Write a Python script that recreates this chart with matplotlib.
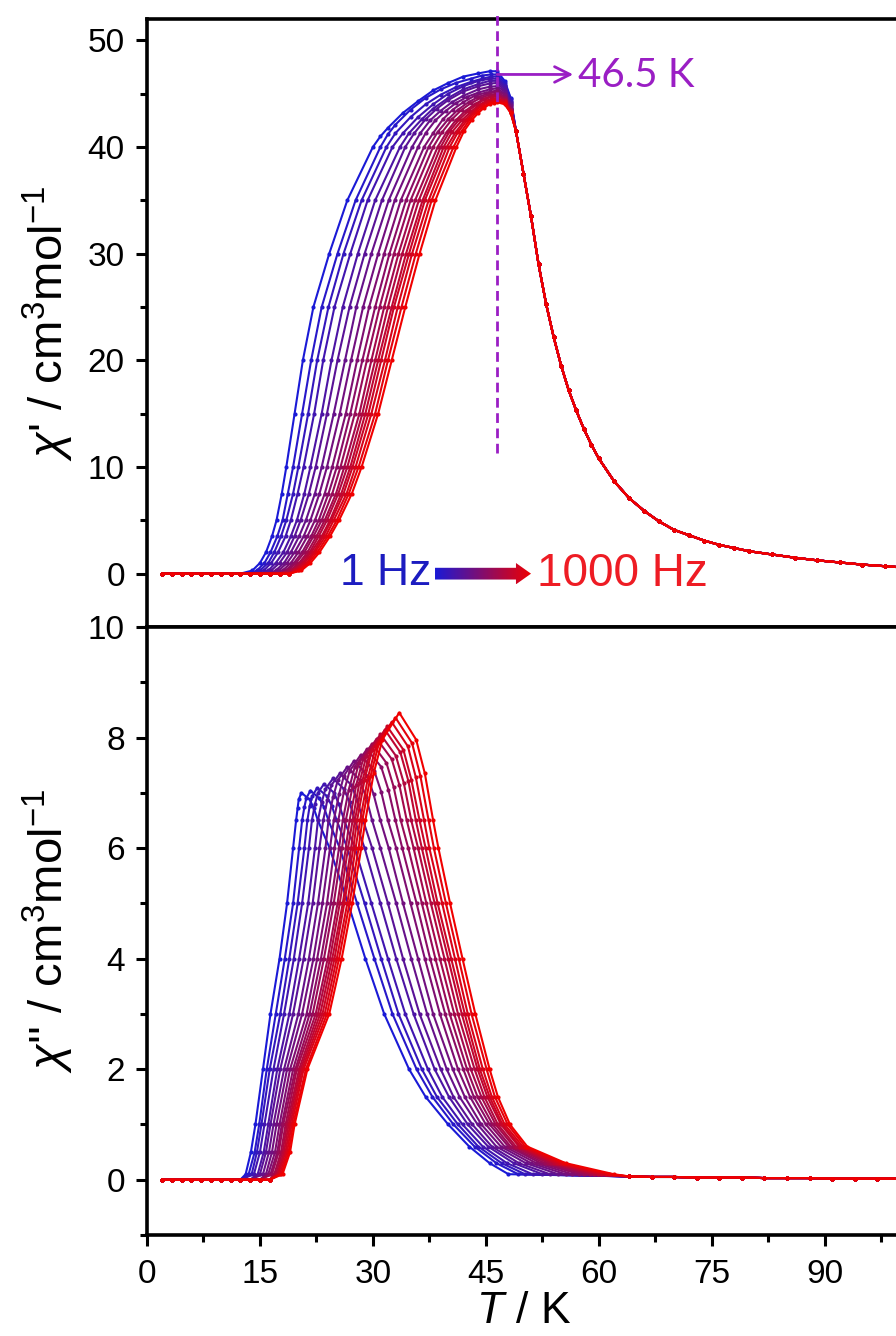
import numpy as np
import matplotlib
matplotlib.use('Agg')
import matplotlib.pyplot as plt
from matplotlib.colors import LinearSegmentedColormap
from matplotlib.patches import Polygon
from matplotlib.ticker import MultipleLocator

plt.rcParams['font.family'] = ['Liberation Sans', 'DejaVu Sans']
plt.rcParams['mathtext.fontset'] = 'custom'
plt.rcParams['mathtext.rm'] = 'Liberation Sans'
plt.rcParams['mathtext.it'] = 'Liberation Sans:italic'

# ---- data (18 frequencies, 1 Hz -> 1000 Hz) ----

# baseline points below the onset (shared)
t_base = [2.0, 3.3, 4.6, 5.9, 7.2, 8.5, 9.8, 11.1, 12.4, 13.7, 15.0, 16.3, 17.6, 18.9]
chi_base = [0.0, 0.0, 0.0, 0.0, 0.0, 0.0, 0.0, 0.0, 0.0, 0.0, 0.0, 0.0, 0.0, 0.0]

# chi' : temperatures where each curve crosses these levels on the rising side
chi1_levels = [0.3, 1, 2, 3.5, 5, 7.5, 10, 15, 20, 25, 30, 35, 40]
t1_rise = [
    [14.0, 15.0, 15.8, 16.6, 17.2, 17.9, 18.5, 19.6, 20.7, 22.1, 24.2, 26.6, 30.0],
    [14.6, 15.6, 16.4, 17.3, 18.0, 18.7, 19.4, 20.6, 21.8, 23.2, 25.3, 27.7, 31.0],
    [15.0, 16.1, 16.9, 17.8, 18.5, 19.4, 20.1, 21.4, 22.6, 24.1, 26.1, 28.5, 31.8],
    [15.5, 16.5, 17.4, 18.4, 19.1, 20.0, 20.8, 22.2, 23.4, 24.9, 27.0, 29.3, 32.6],
    [16.1, 17.1, 18.1, 19.1, 19.9, 20.9, 21.7, 23.2, 24.5, 26.0, 28.0, 30.3, 33.6],
    [16.5, 17.6, 18.6, 19.6, 20.4, 21.5, 22.4, 23.9, 25.3, 26.9, 28.9, 31.2, 34.3],
    [17.1, 18.2, 19.1, 20.2, 21.1, 22.3, 23.2, 24.8, 26.3, 27.8, 29.8, 32.1, 35.2],
    [17.5, 18.6, 19.6, 20.8, 21.7, 22.9, 23.9, 25.6, 27.1, 28.7, 30.7, 32.9, 36.0],
    [18.0, 19.1, 20.1, 21.3, 22.3, 23.6, 24.6, 26.4, 27.9, 29.5, 31.5, 33.7, 36.8],
    [18.4, 19.5, 20.6, 21.8, 22.8, 24.1, 25.2, 27.0, 28.6, 30.3, 32.2, 34.4, 37.4],
    [18.7, 19.8, 20.9, 22.1, 23.2, 24.6, 25.7, 27.6, 29.2, 30.9, 32.8, 35.0, 38.0],
    [19.0, 20.2, 21.3, 22.5, 23.6, 25.1, 26.2, 28.2, 29.8, 31.5, 33.4, 35.6, 38.6],
    [19.3, 20.4, 21.6, 22.8, 23.9, 25.4, 26.6, 28.6, 30.3, 32.0, 33.9, 36.1, 39.0],
    [19.5, 20.7, 21.8, 23.2, 24.3, 25.8, 27.0, 29.0, 30.7, 32.5, 34.4, 36.6, 39.4],
    [19.7, 20.9, 22.1, 23.4, 24.5, 26.1, 27.3, 29.4, 31.1, 32.8, 34.8, 36.9, 39.8],
    [20.0, 21.2, 22.3, 23.7, 24.8, 26.5, 27.7, 29.8, 31.6, 33.3, 35.2, 37.4, 40.2],
    [20.2, 21.4, 22.6, 24.0, 25.2, 26.8, 28.1, 30.3, 32.0, 33.8, 35.7, 37.8, 40.7],
    [20.5, 21.7, 22.9, 24.3, 25.5, 27.2, 28.5, 30.7, 32.5, 34.3, 36.2, 38.3, 41.1],
]
# chi' : rounded top of each curve, up to the common descent
t1_top = [
    [31, 32, 34, 36, 38, 40, 42, 44, 45.5, 46.5, 47.5, 48.3],
    [32, 33, 35, 37, 39, 41, 43, 44.5, 45.7, 46.5, 47.5, 48.3],
    [33, 35, 37, 39, 41, 43, 44.5, 45.7, 46.5, 47.5, 48.3],
    [34, 36, 38, 40, 42, 44, 45.5, 46.5, 47.5, 48.3],
    [34.8, 36.5, 38, 40, 42, 44, 45.5, 46.5, 47.5, 48.3],
    [35.5, 37, 38.5, 40, 42, 44, 45.5, 46.5, 47.5, 48.3],
    [36.3, 37.6, 39, 40.5, 42, 44, 45.5, 46.5, 47.5, 48.3],
    [37, 38.3, 39.7, 41, 42.5, 44, 45.5, 46.5, 47.5, 48.3],
    [38, 39.3, 40.6, 42, 43.5, 45, 46.5, 47.5, 48.3],
    [38.6, 40, 41.3, 42.7, 44, 45.3, 46.5, 47.5, 48.3],
    [39.2, 40.5, 41.8, 43, 44.3, 45.5, 46.5, 47.5, 48.3],
    [39.8, 41, 42.3, 43.5, 44.7, 45.7, 46.5, 47.5, 48.3],
    [40.2, 41.5, 42.7, 43.8, 44.9, 45.8, 46.5, 47.5, 48.3],
    [40.5, 41.8, 43, 44, 45, 45.8, 46.5, 47.5, 48.3],
    [41, 42.2, 43.3, 44.3, 45.2, 45.9, 46.5, 47.5, 48.3],
    [41.3, 42.5, 43.5, 44.5, 45.3, 46, 46.5, 47.5, 48.3],
    [41.8, 42.9, 43.8, 44.7, 45.5, 46.1, 46.5, 47.5, 48.3],
    [42.1, 43.1, 44, 44.8, 45.5, 46.1, 46.5, 47.5, 48.3],
]
chi1_top = [
    [41.0, 41.8, 43.2, 44.3, 45.3, 46.0, 46.6, 46.9, 47.1, 47.1, 46.2, 44.6],
    [41.2, 42.1, 43.5, 44.6, 45.4, 46.0, 46.4, 46.7, 46.8, 46.8, 46.0, 44.5],
    [41.3, 42.8, 44.0, 44.9, 45.6, 46.1, 46.4, 46.6, 46.6, 45.8, 44.3],
    [41.3, 42.8, 44.0, 45.0, 45.7, 46.2, 46.4, 46.4, 45.7, 44.2],
    [41.3, 42.6, 43.6, 44.6, 45.4, 45.9, 46.2, 46.2, 45.5, 44.1],
    [41.3, 42.6, 43.6, 44.4, 45.2, 45.7, 45.95, 46.0, 45.3, 44.0],
    [41.3, 42.5, 43.4, 44.2, 44.8, 45.4, 45.65, 45.7, 45.2, 43.9],
    [41.3, 42.5, 43.4, 44.1, 44.7, 45.1, 45.4, 45.5, 45.0, 43.8],
    [41.3, 42.6, 43.5, 44.2, 44.8, 45.1, 45.3, 44.9, 43.7],
    [41.4, 42.6, 43.5, 44.2, 44.7, 45.0, 45.2, 44.7, 43.6],
    [41.4, 42.6, 43.5, 44.1, 44.6, 44.9, 45.0, 44.6, 43.5],
    [41.4, 42.5, 43.4, 44.0, 44.5, 44.8, 44.9, 44.5, 43.5],
    [41.5, 42.6, 43.4, 44.0, 44.5, 44.7, 44.8, 44.4, 43.4],
    [41.4, 42.5, 43.3, 43.9, 44.3, 44.55, 44.6, 44.3, 43.4],
    [41.4, 42.5, 43.3, 43.9, 44.3, 44.45, 44.5, 44.3, 43.3],
    [41.4, 42.5, 43.3, 43.9, 44.2, 44.35, 44.4, 44.2, 43.3],
    [41.5, 42.6, 43.3, 43.8, 44.1, 44.25, 44.3, 44.1, 43.2],
    [41.5, 42.5, 43.2, 43.7, 44.0, 44.15, 44.2, 44.0, 43.2],
]
# chi' : paramagnetic tail, identical for all frequencies
t1_tail = [49, 50, 51, 52, 53, 54, 55, 56, 57, 58, 59, 60, 62, 64, 66, 68, 70, 72, 74, 76, 78,
           80, 83, 86, 89, 92, 95, 98, 100]
chi1_tail = [41.5, 37.5, 33.5, 29.0, 25.3, 22.2, 19.5, 17.2, 15.3, 13.6, 12.1, 10.8, 8.7, 7.1,
             5.9, 4.9, 4.1, 3.6, 3.1, 2.7, 2.4, 2.1, 1.8, 1.5, 1.25, 1.05, 0.85, 0.7, 0.6]

# chi'' : rising side, crossing temperatures at these levels
chi2_rise_levels = [0.1, 0.5, 1, 2, 3, 4, 5, 6, 6.5]
t2_rise = [
    [13.1, 13.8, 14.4, 15.4, 16.4, 17.6, 18.6, 19.4, 19.8],
    [13.5, 14.3, 14.9, 15.9, 17.1, 18.3, 19.4, 20.2, 20.6],
    [13.9, 14.6, 15.2, 16.3, 17.7, 18.9, 20.0, 20.9, 21.3],
    [14.2, 15.0, 15.6, 16.8, 18.2, 19.5, 20.6, 21.5, 21.9],
    [14.7, 15.5, 16.1, 17.3, 18.9, 20.2, 21.4, 22.3, 22.7],
    [15.0, 15.8, 16.4, 17.7, 19.4, 20.8, 22.0, 22.9, 23.4],
    [15.4, 16.2, 16.8, 18.2, 20.1, 21.5, 22.7, 23.7, 24.1],
    [15.8, 16.6, 17.2, 18.6, 20.6, 22.1, 23.3, 24.3, 24.8],
    [16.1, 17.0, 17.6, 19.0, 21.2, 22.6, 23.9, 24.9, 25.4],
    [16.4, 17.3, 17.9, 19.4, 21.6, 23.1, 24.4, 25.5, 26.0],
    [16.6, 17.5, 18.1, 19.7, 22.0, 23.5, 24.8, 25.9, 26.4],
    [16.9, 17.8, 18.4, 19.9, 22.4, 24.0, 25.3, 26.4, 26.9],
    [17.1, 18.0, 18.6, 20.2, 22.7, 24.3, 25.6, 26.7, 27.3],
    [17.3, 18.2, 18.8, 20.4, 23.0, 24.6, 26.0, 27.1, 27.6],
    [17.4, 18.4, 19.0, 20.6, 23.3, 24.9, 26.2, 27.4, 27.9],
    [17.6, 18.6, 19.2, 20.8, 23.6, 25.2, 26.6, 27.7, 28.3],
    [17.8, 18.8, 19.4, 21.1, 23.9, 25.5, 26.9, 28.1, 28.6],
    [18.0, 19.0, 19.6, 21.3, 24.2, 25.85, 27.25, 28.45, 29.0],
]
# chi'' : peaks
t2_cap = [
    [20.0, 20.15, 20.5, 21.6, 22.15],
    [20.9, 21.15, 21.7, 22.9, 23.5],
    [21.6, 21.95, 22.6, 23.9, 24.55],
    [22.3, 22.7, 23.5, 24.85, 25.5],
    [23.2, 23.7, 24.7, 26.15, 26.9],
    [23.95, 24.5, 25.6, 27.15, 27.9],
    [24.7, 25.35, 26.6, 28.25, 29.1],
    [25.5, 26.15, 27.5, 29.25, 30.1],
    [26.15, 26.9, 28.4, 30.2, 31.1],
    [26.8, 27.6, 29.2, 31.1, 32.05],
    [27.3, 28.15, 29.9, 31.8, 32.75],
    [27.8, 28.7, 30.5, 32.5, 33.5],
    [28.2, 29.15, 31.0, 33.05, 34.1],
    [28.6, 29.6, 31.6, 33.65, 34.7],
    [28.9, 29.9, 31.9, 34.05, 35.1],
    [29.35, 30.4, 32.5, 34.65, 35.7],
    [29.7, 30.8, 33.0, 35.2, 36.3],
    [30.1, 31.25, 33.5, 35.75, 36.9],
]
chi2_cap = [
    [6.72, 6.88, 7.00, 6.88, 6.72],
    [6.74, 6.90, 7.04, 6.90, 6.74],
    [6.76, 6.94, 7.09, 6.94, 6.76],
    [6.79, 7.00, 7.16, 7.00, 6.79],
    [6.83, 7.07, 7.26, 7.07, 6.83],
    [6.87, 7.14, 7.35, 7.14, 6.87],
    [6.92, 7.23, 7.47, 7.23, 6.92],
    [6.97, 7.31, 7.58, 7.31, 6.97],
    [7.02, 7.39, 7.69, 7.39, 7.02],
    [7.06, 7.47, 7.79, 7.47, 7.06],
    [7.11, 7.54, 7.89, 7.54, 7.11],
    [7.15, 7.61, 7.98, 7.61, 7.15],
    [7.18, 7.67, 8.06, 7.67, 7.18],
    [7.22, 7.73, 8.14, 7.73, 7.22],
    [7.24, 7.78, 8.20, 7.78, 7.24],
    [7.28, 7.84, 8.28, 7.84, 7.28],
    [7.31, 7.90, 8.36, 7.90, 7.31],
    [7.35, 7.96, 8.45, 7.96, 7.35],
]
# chi'' : falling side
chi2_fall_levels = [6.5, 6, 5, 4, 3, 2, 1.5, 1, 0.6, 0.3, 0.1]
t2_fall = [
    [22.7, 24.25, 26.7, 29.0, 31.5, 34.8, 37.0, 40.0, 42.8, 45.5, 48.0],
    [24.1, 25.6, 27.9, 30.2, 32.6, 35.8, 37.9, 40.7, 43.5, 46.4, 49.3],
    [25.2, 26.6, 28.9, 31.1, 33.4, 36.5, 38.5, 41.3, 44.0, 47.1, 50.2],
    [26.2, 27.6, 29.8, 32.0, 34.3, 37.3, 39.2, 41.9, 44.6, 47.8, 51.2],
    [27.6, 28.9, 31.0, 33.1, 35.4, 38.2, 40.1, 42.6, 45.3, 48.7, 52.5],
    [28.7, 29.9, 32.0, 34.0, 36.2, 39.0, 40.7, 43.2, 45.8, 49.4, 53.5],
    [29.9, 31.0, 33.1, 35.1, 37.2, 39.8, 41.5, 43.9, 46.4, 50.3, 54.6],
    [31.0, 32.1, 34.0, 36.0, 38.0, 40.6, 42.2, 44.4, 47.0, 51.0, 55.6],
    [32.0, 33.1, 35.0, 36.9, 38.9, 41.3, 42.9, 45.0, 47.5, 51.7, 56.5],
    [33.0, 33.9, 35.8, 37.6, 39.6, 42.0, 43.4, 45.5, 48.0, 52.3, 57.4],
    [33.7, 34.7, 36.5, 38.3, 40.2, 42.5, 43.9, 45.9, 48.3, 52.8, 58.1],
    [34.5, 35.4, 37.1, 38.9, 40.8, 43.0, 44.4, 46.3, 48.7, 53.3, 58.8],
    [35.1, 36.0, 37.7, 39.5, 41.3, 43.5, 44.8, 46.6, 49.0, 53.7, 59.3],
    [35.7, 36.5, 38.2, 40.0, 41.8, 43.9, 45.2, 47.0, 49.4, 54.1, 59.9],
    [36.2, 37.0, 38.6, 40.4, 42.2, 44.2, 45.5, 47.2, 49.6, 54.4, 60.3],
    [36.8, 37.5, 39.2, 40.9, 42.6, 44.6, 45.8, 47.5, 49.9, 54.8, 60.9],
    [37.4, 38.1, 39.7, 41.4, 43.1, 45.1, 46.2, 47.9, 50.2, 55.2, 61.4],
    [38.0, 38.7, 40.25, 41.9, 43.6, 45.5, 46.6, 48.2, 50.5, 55.6, 62.0],
]
t2_tail = [64, 67, 70, 73, 76, 79, 82, 85, 88, 91, 94, 97, 100]
chi2_tail = [0.06, 0.05, 0.05, 0.04, 0.04, 0.04, 0.03, 0.03, 0.03, 0.02, 0.02, 0.02, 0.02]

# ---- styling ----
blue = '#1a1ad6'
red = '#f00000'
purple = '#9a1ec4'
cmap = LinearSegmentedColormap.from_list('freq', [blue, red])

fig = plt.figure(figsize=(8.96, 13.36), dpi=100)
ax1 = fig.add_axes([0.16406, 0.53069, 0.8404, 0.45509])
ax2 = fig.add_axes([0.16406, 0.07560, 0.8404, 0.45509])

n = len(t1_rise)
for k in range(n):
    c = cmap(k / (n - 1))
    tb = [t for t in t_base if t < t1_rise[k][0] - 0.5]
    x = tb + t1_rise[k] + t1_top[k] + t1_tail
    y = chi_base[:len(tb)] + chi1_levels + chi1_top[k] + chi1_tail
    ax1.plot(x, y, '-o', color=c, lw=1.5, ms=3, mew=0)

    tb = [t for t in t_base if t < t2_rise[k][0] - 0.5]
    x = tb + t2_rise[k] + t2_cap[k] + t2_fall[k] + t2_tail
    y = chi_base[:len(tb)] + chi2_rise_levels + chi2_cap[k] + chi2_fall_levels + chi2_tail
    ax2.plot(x, y, '-o', color=c, lw=1.5, ms=3, mew=0)

for ax in (ax1, ax2):
    for s in ax.spines.values():
        s.set_linewidth(2.6)
    ax.set_xlim(0, 100)
    ax.xaxis.set_major_locator(MultipleLocator(15))
    ax.xaxis.set_minor_locator(MultipleLocator(7.5))
    ax.tick_params(which='both', direction='out', width=2.2, labelsize=24, pad=8,
                   top=False, right=False)
    ax.tick_params(which='major', length=8)
    ax.tick_params(which='minor', length=5)

ax1.tick_params(axis='x', which='both', bottom=False, labelbottom=False)
ax2.tick_params(axis='x', pad=9)
ax1.set_ylim(-5, 52)
ax1.yaxis.set_major_locator(MultipleLocator(10))
ax1.yaxis.set_minor_locator(MultipleLocator(5))
ax2.set_ylim(-1, 10)
ax2.yaxis.set_major_locator(MultipleLocator(2))
ax2.yaxis.set_minor_locator(MultipleLocator(1))

ax1.set_ylabel(r"$\chi$' / cm$^3$mol$^{-1}$", fontsize=34)
ax2.set_ylabel(r"$\chi$'' / cm$^3$mol$^{-1}$", fontsize=34)
ax1.yaxis.set_label_coords(-0.094, 0.5)
ax2.yaxis.set_label_coords(-0.094, 0.5)
ax2.set_xlabel(r"$T$ / K", fontsize=32, va='baseline')
ax2.xaxis.set_label_coords(0.5, -0.144)

# Tc marker
ax1.plot([46.5, 46.5], [11.3, 52.4], color=purple, lw=2, ls=(0, (3.5, 2)),
         clip_on=False, zorder=4)
ax1.annotate('', xy=(56.6, 46.8), xytext=(46.5, 46.8),
             arrowprops=dict(arrowstyle='->', color=purple, lw=2, mutation_scale=28,
                             shrinkA=0, shrinkB=0))
ax1.text(57.3, 46.7, '46.5 K', color=purple, fontsize=29, family=['Lato', 'DejaVu Sans'],
         ha='left', va='center')

# frequency legend with gradient arrow
ax1.text(37.8, 0, '1 Hz', color='#1c1cc0', fontsize=32, ha='right', va='center')
ax1.text(51.8, 0, '1000 Hz', color='#ee1c24', fontsize=33, ha='left', va='center')
verts = [(38.25, -0.55), (49.0, -0.55), (49.0, -1.0), (51.0, 0.0),
         (49.0, 1.0), (49.0, 0.55), (38.25, 0.55)]
grad = np.linspace(0, 1, 256).reshape(1, -1)
im = ax1.imshow(grad, cmap=cmap, extent=[38.25, 51.0, -1.0, 1.0], aspect='auto',
                zorder=5, interpolation='bilinear')
im.set_clip_path(Polygon(verts, closed=True, transform=ax1.transData))
ax1.set_xlim(0, 100)
ax1.set_ylim(-5, 52)

fig.savefig('out.png', dpi=100)
